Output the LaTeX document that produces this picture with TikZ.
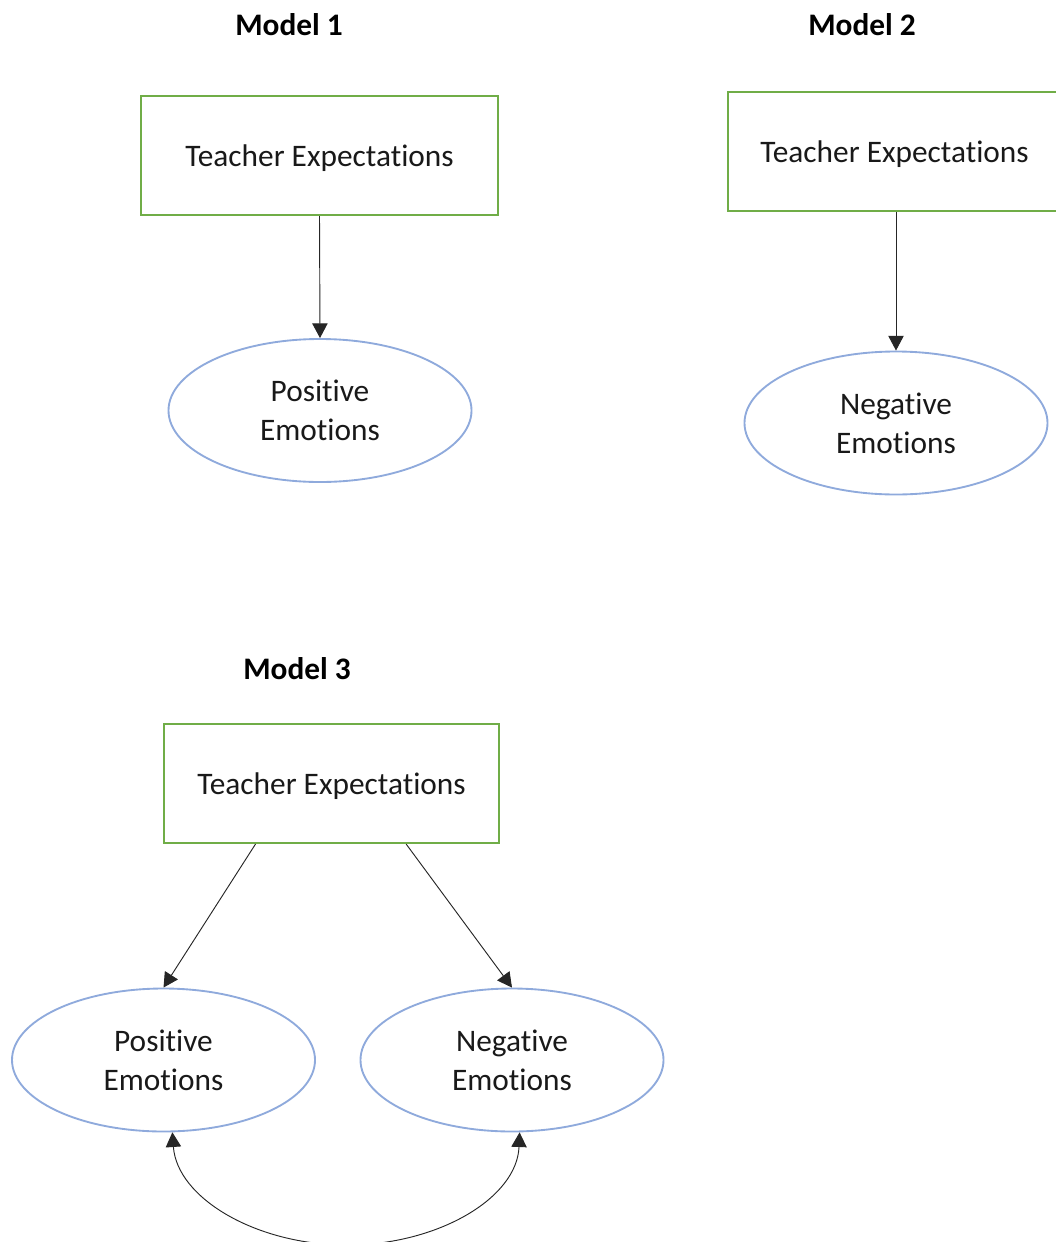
\documentclass[tikz,border=0pt]{standalone}
\usepackage{fontspec}
\setmainfont[Ligatures=NoCommon]{Carlito}
\usetikzlibrary{arrows.meta,shapes.geometric}
\definecolor{boxgreen}{HTML}{70AD47}
\definecolor{ovalblue}{HTML}{8FAADC}
\tikzset{
  base/.style={font=\fontsize{23.5pt}{29.25pt}\selectfont, text=black!90, align=center, inner sep=0pt},
  title/.style={font=\fontsize{23.5pt}{29.25pt}\selectfont\bfseries, inner sep=0pt},
  varbox/.style={base, draw=boxgreen, line width=1.6pt, rectangle, minimum height=89.25pt, text depth=0pt},
  emo/.style={base, draw=ovalblue, line width=1.4pt, ellipse, minimum width=227.25pt, minimum height=107.25pt},
  effect/.style={draw=black!85, line width=0.7pt, -{Triangle[length=11pt,width=11.5pt]}},
  cov/.style={draw=black!85, line width=0.7pt, {Triangle[length=11pt,width=11.5pt]}-{Triangle[length=11pt,width=11.5pt]}}
}
\begin{document}
\begin{tikzpicture}[x=0.75pt,y=-0.75pt]
  \useasboundingbox (0,0) rectangle (1056,1242);
  \clip (0,0) rectangle (1056,1242);

  % Model 1
  \node[title] (t1) at (289,25) {Model 1};
  \node[varbox, minimum width=267.75pt] (te1) at (319.5,155.5) {Teacher Expectations};
  \node[emo] (pe1) at (320,410.5) {Positive\\Emotions};
  \draw[effect] (te1.south) -- (pe1.north);

  % Model 2
  \node[title] (t2) at (862,25) {Model 2};
  \node[varbox, minimum width=249.75pt] (te2) at (894.5,151.5) {Teacher Expectations};
  \node[emo] (ne2) at (896,423) {Negative\\Emotions};
  \draw[effect] (te2.south -| ne2.north) -- (ne2.north);

  % Model 3
  \node[title] (t3) at (297,669) {Model 3};
  \node[varbox, minimum width=251.25pt] (te3) at (331.5,783.5) {Teacher Expectations};
  \node[emo] (pe3) at (163.5,1060) {Positive\\Emotions};
  \node[emo] (ne3) at (512,1060) {Negative\\Emotions};
  \coordinate (s1) at ([xshift=-57pt]te3.south);
  \coordinate (s2) at ([xshift=56pt]te3.south);
  \draw[effect] (s1) -- (pe3.north);
  \draw[effect] (s2) -- (ne3.north);
  % correlation between the two emotion factors, dipping below the frame
  \draw[cov] (pe3.277.5) .. controls (177,1198) and (256,1245) .. (347,1245)
                         .. controls (438,1245) and (517,1198) .. (ne3.276);
\end{tikzpicture}
\end{document}
